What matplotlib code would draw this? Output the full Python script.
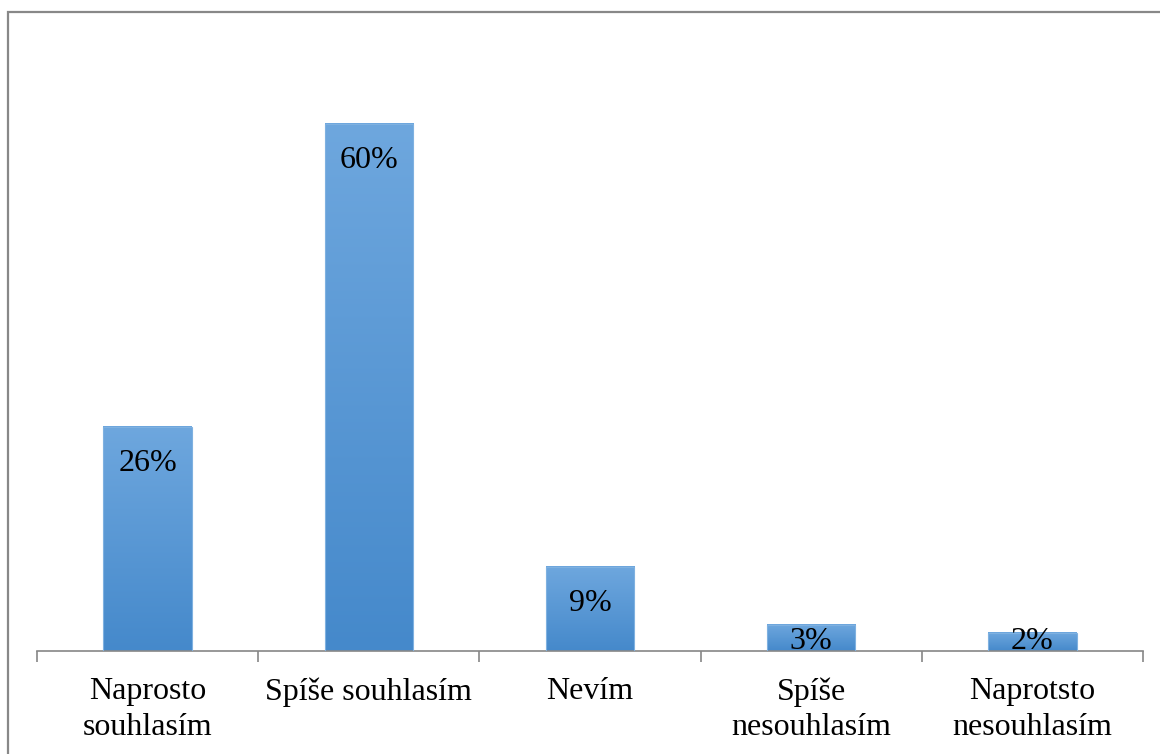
import numpy as np
import matplotlib.pyplot as plt
from matplotlib.colors import LinearSegmentedColormap
from matplotlib.patches import Rectangle

# survey answers and share of respondents (%)
categories = ['Naprosto\nsouhlasím', 'Spíše souhlasím', 'Nevím',
              'Spíše\nnesouhlasím', 'Naprotsto\nnesouhlasím']
shares = [25.5, 60.0, 9.6, 3.0, 2.05]
share_labels = ['26%', '60%', '9%', '3%', '2%']

plt.rcParams['font.family'] = ['Liberation Serif', 'DejaVu Serif']

fig = plt.figure(figsize=(11.6, 7.54), dpi=100)
ax = fig.add_axes([37 / 1160, 103 / 754, 1106 / 1160, 615 / 754])

# gradient fill like the office chart: lighter at top, darker at bottom
grad_cmap = LinearSegmentedColormap.from_list('bar_grad', ['#4589cb', '#6ea7de'])
grad = np.linspace(0, 1, 256).reshape(-1, 1)
bar_w = 0.4
x = np.arange(len(categories))

bars = ax.bar(x, shares, width=bar_w, color='none', edgecolor='#7fb1e0', linewidth=0.8, zorder=3)
for b in bars:
    x0, y0 = b.get_x(), b.get_y()
    w, h = b.get_width(), b.get_height()
    ax.imshow(grad, cmap=grad_cmap, origin='lower', aspect='auto',
              extent=(x0, x0 + w, y0, y0 + h), zorder=2, interpolation='bilinear')

# value labels sit inside the top of the bar, but never below the axis
for xi, v, lab in zip(x, shares, share_labels):
    ax.text(xi, max(v - 5.0, 0.2), lab, ha='center', va='baseline', fontsize=23, zorder=4)

ax.set_xlim(-0.5, len(categories) - 0.5)
ax.set_ylim(0, 70)

# ticks at category borders, labels at centres
ax.set_xticks(np.arange(len(categories) + 1) - 0.5)
ax.set_xticklabels([])
ax.tick_params(axis='x', which='major', length=8, width=1.2, color='#868686', direction='out')
ax.set_xticks(x, minor=True)
ax.set_xticklabels(categories, minor=True, fontsize=23, linespacing=1.28)
ax.tick_params(axis='x', which='minor', length=0, pad=19)
ax.set_yticks([])

for s in ['top', 'right', 'left']:
    ax.spines[s].set_visible(False)
ax.spines['bottom'].set_color('#868686')
ax.spines['bottom'].set_linewidth(1.2)

# outer chart frame (cut by the image edge on right and bottom)
fig.add_artist(Rectangle((7.5 / 1160, -0.1), 1.2, (754 - 11.5) / 754 + 0.1,
                         transform=fig.transFigure, facecolor='none',
                         edgecolor='#888888', linewidth=1.6))

fig.savefig('out.png', dpi=100)
